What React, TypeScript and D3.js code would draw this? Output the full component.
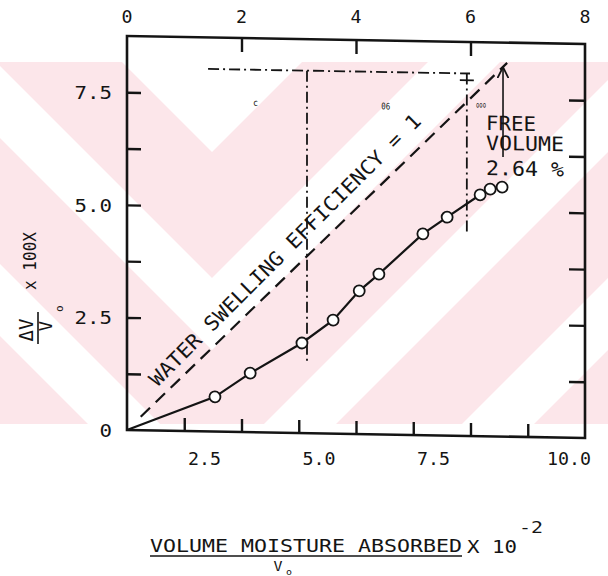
import React, { useEffect, useRef } from 'react'
import * as d3 from 'd3'

// measured points: volume moisture absorbed / Vo (x 10^-2) vs dV/Vo x 100 (%)
const moistureX = [1.92, 2.69, 3.82, 4.5, 5.07, 5.5, 6.46, 6.99, 7.71, 7.93, 8.19]
const swellingY = [0.77, 1.31, 2.0, 2.52, 3.18, 3.56, 4.47, 4.85, 5.36, 5.49, 5.54]

// axes
const bottomTicks = [1.25, 2.5, 3.75, 5, 6.25, 7.5, 8.75]
const bottomLabelValues = [2.5, 5, 7.5, 10]
const bottomLabels = ['2.5', '5.0', '7.5', '10.0']
const leftTicks = [1.25, 2.5, 3.75, 5, 6.25, 7.5]
const leftLabelValues = [0, 2.5, 5, 7.5]
const leftLabels = ['0', '2.5', '5.0', '7.5']
const topTicks = [2, 4, 6]
const topLabelValues = [0, 2, 4, 6, 8]
const topLabels = ['0', '2', '4', '6', '8']

// efficiency = 1 line (y = x)
const efficiencyRange = [0.3, 8.3]
// free volume construction (dash-dot)
const guideTop = 8.05
const guideSpan = [1.77, 7.49]
const guideX = [3.93, 7.42]
const guideBottom = [1.58, 4.48]
const capY = 7.9
const arrowX = 8.21
const arrowRange = [6.21, 8.18]

const ink = '#141414'
const mono = '"DejaVu Sans Mono", "Liberation Mono", monospace'

function drawChart(el: SVGSVGElement) {
  const svg = d3.select(el)
  svg.selectAll('*').remove()

  const left = 127
  const right = 585
  const top = 36
  const bottom = 430

  const x = d3.scaleLinear().domain([0, 10]).range([left, right])
  const xTop = d3.scaleLinear().domain([0, 8]).range([left, right])
  const y = d3.scaleLinear().domain([0, 8.75]).range([bottom, top])

  const defs = svg.append('defs')
  defs
    .append('clipPath')
    .attr('id', 'wmclip')
    .append('rect')
    .attr('x', 0)
    .attr('y', 62)
    .attr('width', 608)
    .attr('height', 362)
  defs
    .append('marker')
    .attr('id', 'arrowhead')
    .attr('viewBox', '0 0 10 10')
    .attr('refX', 9)
    .attr('refY', 5)
    .attr('markerWidth', 7)
    .attr('markerHeight', 7)
    .attr('orient', 'auto')
    .append('path')
    .attr('d', 'M0,0 L10,5 L0,10')
    .attr('fill', 'none')
    .attr('stroke', ink)
    .attr('stroke-width', 1.6)

  // scanned watermark: nested chevrons pointing down
  const wm = svg.append('g').attr('clip-path', 'url(#wmclip)')
  wm.append('rect').attr('x', 0).attr('y', 62).attr('width', 608).attr('height', 362).attr('fill', '#fce6ea')
  const cx = 212
  const chevron = (a: number, b: number) =>
    `M${cx - b},0 L${cx},${b} L${cx + b},0 L${cx + a},0 L${cx},${a} L${cx - a},0 Z`
  ;[
    [0, 152],
    [278, 350],
    [476, 548],
    [674, 746],
    [872, 944],
    [1070, 1142]
  ].forEach(([a, b]) => wm.append('path').attr('d', chevron(a, b)).attr('fill', '#fff'))

  // the scan is slightly sheared, right side sits lower
  const plot = svg.append('g').attr('transform', `translate(${left},0) skewY(1) translate(${-left},0)`)

  plot
    .append('rect')
    .attr('x', left)
    .attr('y', top)
    .attr('width', right - left)
    .attr('height', bottom - top)
    .attr('fill', 'none')
    .attr('stroke', ink)
    .attr('stroke-width', 2.6)

  const styleAxis = (g: any) => {
    g.select('.domain').remove()
    g.selectAll('line').attr('stroke', ink).attr('stroke-width', 2.4)
  }
  plot
    .append('g')
    .attr('transform', `translate(${left},0)`)
    .call(d3.axisLeft(y).tickValues(leftTicks).tickSize(-14).tickFormat(() => ''))
    .call(styleAxis)
  plot
    .append('g')
    .attr('transform', `translate(${right},0)`)
    .call(d3.axisRight(y).tickValues(leftTicks).tickSize(-16).tickFormat(() => ''))
    .call(styleAxis)
  plot
    .append('g')
    .attr('transform', `translate(0,${bottom})`)
    .call(d3.axisBottom(x).tickValues(bottomTicks).tickSize(-13).tickFormat(() => ''))
    .call(styleAxis)
  plot
    .append('g')
    .attr('transform', `translate(0,${top})`)
    .call(d3.axisTop(xTop).tickValues(topTicks).tickSize(-14).tickFormat(() => ''))
    .call(styleAxis)

  // efficiency = 1 reference
  plot
    .append('path')
    .datum(efficiencyRange)
    .attr('d', d3.line<number>().x((d) => x(d)).y((d) => y(d)))
    .attr('fill', 'none')
    .attr('stroke', ink)
    .attr('stroke-width', 2.2)
    .attr('stroke-dasharray', '13 8')

  // dash-dot construction lines
  const dashDot = '11 4 2 4'
  plot
    .append('line')
    .attr('x1', x(guideSpan[0]))
    .attr('x2', x(guideSpan[1]))
    .attr('y1', y(guideTop))
    .attr('y2', y(guideTop))
    .attr('stroke', ink)
    .attr('stroke-width', 1.8)
    .attr('stroke-dasharray', dashDot)
  guideX.forEach((gx, i) => {
    plot
      .append('line')
      .attr('x1', x(gx))
      .attr('x2', x(gx))
      .attr('y1', y(guideTop))
      .attr('y2', y(guideBottom[i]))
      .attr('stroke', ink)
      .attr('stroke-width', 1.8)
      .attr('stroke-dasharray', dashDot)
  })
  plot
    .append('line')
    .attr('x1', x(guideX[1]) - 7)
    .attr('x2', x(guideX[1]) + 7)
    .attr('y1', y(capY))
    .attr('y2', y(capY))
    .attr('stroke', ink)
    .attr('stroke-width', 1.6)

  // free volume arrow
  plot
    .append('line')
    .attr('x1', x(arrowX))
    .attr('x2', x(arrowX))
    .attr('y1', y(arrowRange[0]))
    .attr('y2', y(arrowRange[1]))
    .attr('stroke', ink)
    .attr('stroke-width', 1.6)
    .attr('marker-end', 'url(#arrowhead)')

  // measured curve
  const pts: [number, number][] = [[0, 0], ...moistureX.map((d, i) => [d, swellingY[i]] as [number, number])]
  plot
    .append('path')
    .datum(pts)
    .attr('d', d3.line().x((d) => x(d[0])).y((d) => y(d[1])))
    .attr('fill', 'none')
    .attr('stroke', ink)
    .attr('stroke-width', 2.2)
  plot
    .selectAll('circle.pt')
    .data(moistureX)
    .enter()
    .append('circle')
    .attr('class', 'pt')
    .attr('cx', (d) => x(d))
    .attr('cy', (d, i) => y(swellingY[i]))
    .attr('r', 5.5)
    .attr('fill', '#fff')
    .attr('stroke', ink)
    .attr('stroke-width', 1.8)

  // annotations
  plot
    .append('text')
    .attr('transform', `translate(${x(3.45)},${y(4.06)}) rotate(-45.5)`)
    .attr('text-anchor', 'middle')
    .attr('dominant-baseline', 'central')
    .attr('font-family', mono)
    .attr('font-size', 20)
    .attr('textLength', 378)
    .attr('lengthAdjust', 'spacingAndGlyphs')
    .attr('fill', ink)
    .text('WATER SWELLING EFFICIENCY = 1')

  const note = (t: string, vx: number, vy: number, len: number, size = 20) =>
    plot
      .append('text')
      .attr('x', x(vx))
      .attr('y', y(vy))
      .attr('font-family', mono)
      .attr('font-size', size)
      .attr('textLength', len)
      .attr('lengthAdjust', 'spacingAndGlyphs')
      .attr('fill', ink)
      .text(t)
  note('FREE', 7.84, 6.8, 50)
  note('VOLUME', 7.84, 6.36, 78)
  note('2.64 %', 7.84, 5.8, 78)
  note('c', 2.75, 7.25, 5, 9)
  note('06', 5.55, 7.22, 9, 9)
  note('ooo', 7.62, 7.3, 10, 8)

  // tick labels (typed labels sit left of the ticks in the original)
  const label = (t: string, px: number, py: number, anchor: string, size: number, len: number) =>
    svg
      .append('text')
      .attr('x', px)
      .attr('y', py)
      .attr('text-anchor', anchor)
      .attr('font-family', mono)
      .attr('font-size', size)
      .attr('textLength', len)
      .attr('lengthAdjust', 'spacingAndGlyphs')
      .attr('fill', ink)
      .text(t)

  leftLabels.forEach((t, i) => label(t, 112, y(leftLabelValues[i]) + 7, 'end', 18, t.length * 12.5))
  bottomLabels.forEach((t, i) =>
    label(t, x(bottomLabelValues[i]) - (i === 3 ? 16 : 37), bottom + 35, 'middle', 18, t.length * 11)
  )
  topLabels.forEach((t, i) => label(t, xTop(topLabelValues[i]), 23, 'middle', 18, 11))

  // y axis title
  const yt = svg.append('g').attr('transform', 'translate(35,328) rotate(-90)')
  yt.append('text')
    .attr('x', -2)
    .attr('y', -2)
    .attr('text-anchor', 'middle')
    .attr('font-family', mono)
    .attr('font-size', 19)
    .attr('fill', ink)
    .text('ΔV')
  yt.append('line').attr('x1', -16).attr('x2', 16).attr('y1', 3).attr('y2', 3).attr('stroke', ink).attr('stroke-width', 1.6)
  yt.append('text')
    .attr('x', 2)
    .attr('y', 17)
    .attr('text-anchor', 'middle')
    .attr('font-family', mono)
    .attr('font-size', 17)
    .attr('fill', ink)
    .text('V')
  yt.append('text').attr('x', 16).attr('y', 28).attr('font-family', mono).attr('font-size', 11).attr('fill', ink).text('o')
  yt.append('text')
    .attr('x', 38)
    .attr('y', 1)
    .attr('font-family', mono)
    .attr('font-size', 17)
    .attr('textLength', 58)
    .attr('lengthAdjust', 'spacingAndGlyphs')
    .attr('fill', ink)
    .text('x 100X')

  // x axis title
  label('VOLUME MOISTURE ABSORBED', 150, 552, 'start', 17, 312)
  svg.append('line').attr('x1', 150).attr('x2', 462).attr('y1', 556).attr('y2', 556).attr('stroke', ink).attr('stroke-width', 1.5)
  label('V', 278, 571, 'middle', 14, 9)
  label('o', 289, 575, 'middle', 9, 6)
  label('X 10', 467, 553, 'start', 17, 50)
  label('-2', 519, 533, 'start', 15, 24)
}

const App = () => {
  const ref = useRef<SVGSVGElement>(null)
  useEffect(() => {
    if (ref.current) drawChart(ref.current)
  }, [])
  return (
    <svg
      ref={ref}
      width={608}
      height={576}
      style={{ position: 'absolute', left: 0, top: 0, background: '#fff' }}
    />
  )
}

export default App
